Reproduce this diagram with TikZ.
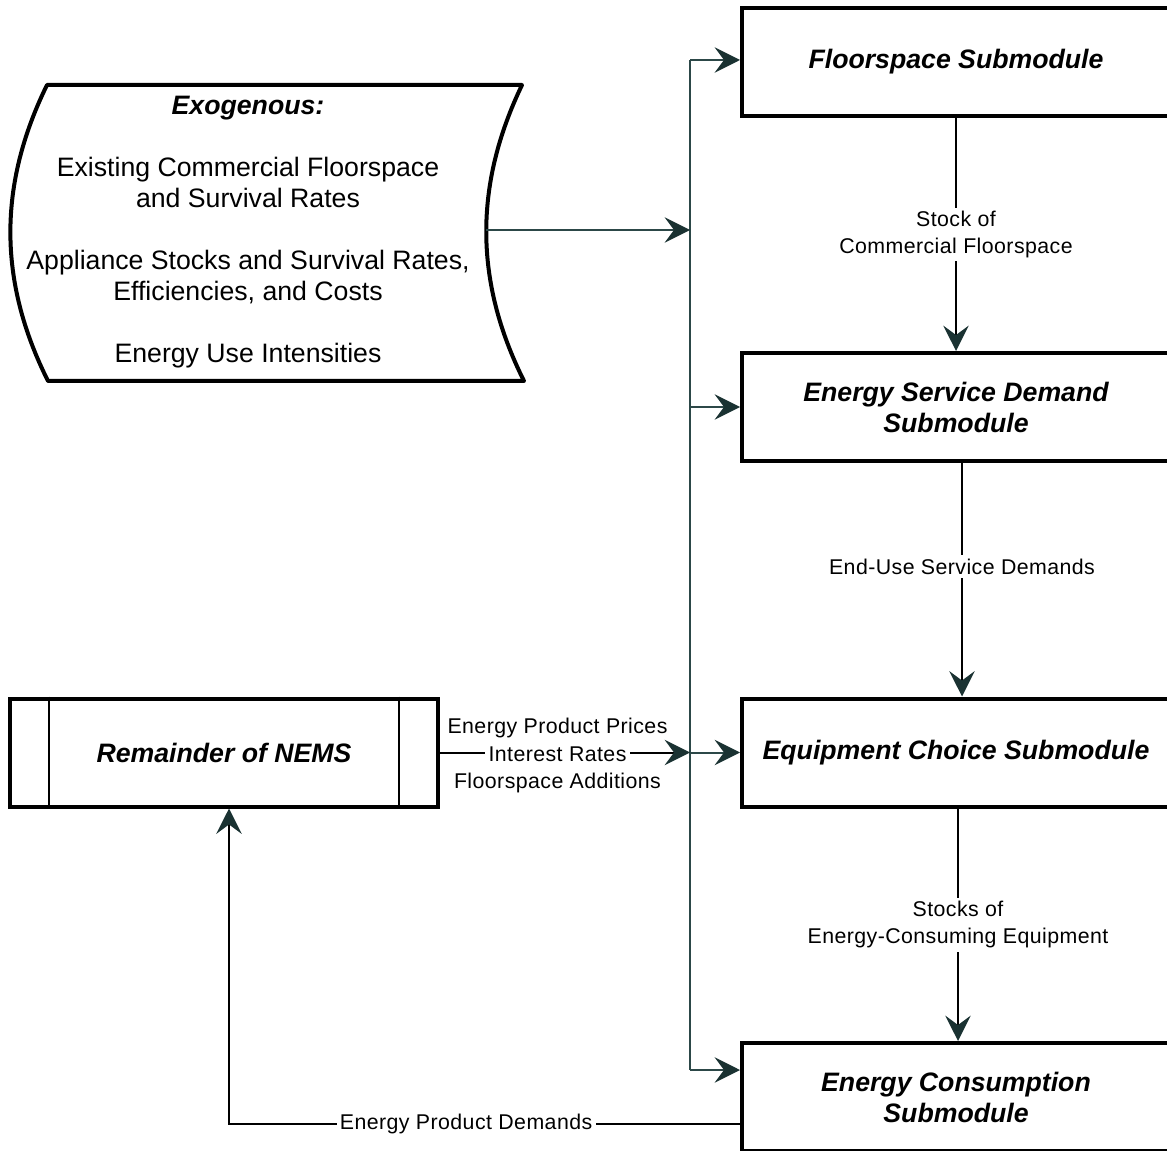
\documentclass[tikz,border=0pt]{standalone}
\usepackage{fontspec}
\setmainfont{Liberation Sans}
\newfontfamily\lblfamily[LetterSpace=2]{Liberation Sans}
\usetikzlibrary{arrows.meta,calc}
\definecolor{tipcol}{HTML}{1A3232}
\definecolor{buscol}{HTML}{2C4848}
\newcommand\ttlfnt{\fontsize{20}{23.25}\selectfont\bfseries\itshape}
\newcommand\txtfnt{\fontsize{20}{23.25}\selectfont}
\newcommand\lblfnt{\lblfamily\fontsize{16}{20.25}\selectfont}
\begin{document}
\begin{tikzpicture}[x=0.75pt,y=-0.75pt,
  >={Stealth[length=19pt,width=19pt,inset=7pt,color=tipcol]},
  box/.style={draw=black, line width=3pt, minimum width=321pt, minimum height=81pt,
    inner sep=0pt, align=center, font=\ttlfnt},
  conn/.style={draw=black, line width=1.5pt},
  busline/.style={draw=buscol, line width=1.5pt},
  lbl/.style={fill=white, inner sep=2.5pt, align=center, font=\lblfnt, text=black},
  lblnf/.style={inner sep=1.5pt, align=center, font=\lblfnt, text=black}]
\useasboundingbox (0,0) rectangle (1167,1151);
\clip (0,0) rectangle (1167,1151);

% boxes
\node[box] (fs) at (956,62) {Floorspace Submodule};
\node[box] (sd) at (956,407) {Energy Service Demand\\Submodule};
\node[box] (ec) at (956,752.5) {Equipment Choice Submodule};
\node[box] (cs) at (956,1097) {Energy Consumption\\Submodule};
\node[box] (nems) at (224,752.5) {Remainder of NEMS};
\draw[line width=1.5pt] ([xshift=30.75pt]nems.north west) -- ([xshift=30.75pt]nems.south west);
\draw[line width=1.5pt] ([xshift=-30.75pt]nems.north east) -- ([xshift=-30.75pt]nems.south east);

% exogenous tape
\draw[line width=3pt, line join=round]
  (47,85) -- (522,85) .. controls (474,185) and (474,281) .. (524,381)
  -- (48,381) .. controls (-2,281) and (-2,185) .. (47,85) -- cycle;
\node[align=center, font=\txtfnt, inner sep=0pt] (exo) at (248,232)
  {\textbf{\textit{Exogenous:}}\\[23.25pt]
   Existing Commercial Floorspace\\and Survival Rates\\[23.25pt]
   Appliance Stocks and Survival Rates,\\Efficiencies, and Costs\\[23.25pt]
   Energy Use Intensities};

\coordinate (exoout) at (486,230);
\coordinate (btop) at (690,60);
\coordinate (bbot) at (690,1070);

% bus
\draw[busline] (btop) -- (bbot);
\draw[busline,->] (btop) -- (btop -| fs.west);
\draw[busline,->] (exoout) -- (exoout -| btop);
\draw[busline,->] (sd.west -| btop) -- (sd.west);
\draw[busline,->] (ec.west -| btop) -- (ec.west);
\draw[busline,->] (bbot) -- (bbot -| cs.west);

% between submodules
\draw[conn,->] (fs.south) -- node[lbl]{Stock of\\Commercial Floorspace} (sd.north);
\draw[conn,->] ([xshift=4.5pt]sd.south) -- node[lbl,pos=0.443]{End-Use Service Demands} ([xshift=4.5pt]ec.north);
\draw[conn,->] ([xshift=1.5pt]ec.south) -- node[lbl]{Stocks of\\Energy-Consuming Equipment} ([xshift=1.5pt]cs.north);

% NEMS to bus
\draw[conn,->] (nems.east) -- node[lbl,pos=0.47,inner ysep=1pt,yshift=-1pt,
    label={[lblnf,label distance=2pt]above:Energy Product Prices},
    label={[lblnf,label distance=4.5pt]below:Floorspace Additions}] (ir) {Interest Rates} (nems.east -| btop);

% demands back to NEMS
\coordinate (dstart) at ([yshift=-20.25pt]cs.west);
\draw[conn,->] (dstart) -| node[lbl,pos=0.268]{Energy Product Demands} ([xshift=3.75pt]nems.south);
\end{tikzpicture}
\end{document}
